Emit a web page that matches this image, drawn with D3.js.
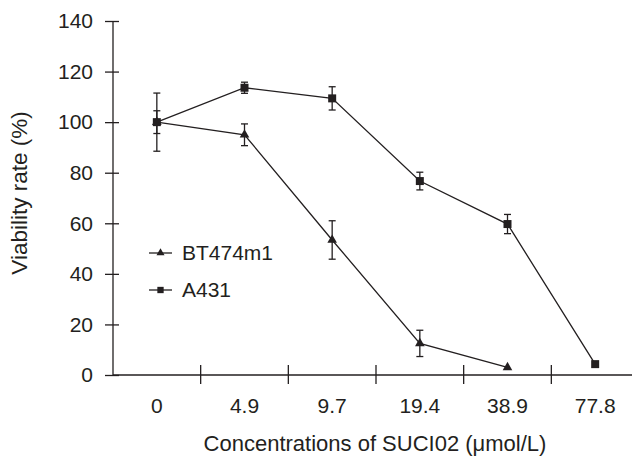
<!DOCTYPE html>
<html lang="en">
<head>
<meta charset="UTF-8">
<title>Viability rate</title>
<script src="https://cdnjs.cloudflare.com/ajax/libs/d3/7.8.5/d3.min.js"></script>
<style>
  body { margin: 0; background: #fff; }
  text { font-family: "Liberation Sans", Arial, sans-serif; fill: #231f20; }
</style>
</head>
<body>
<div id="chart"></div>
<script>
  // data
  var categories = ["0", "4.9", "9.7", "19.4", "38.9", "77.8"];
  var yTicks = [0, 20, 40, 60, 80, 100, 120, 140];

  var btValues = [100, 95.0, 53.4, 12.5, 3.0];
  var btErrors = [4.5, 4.3, 7.6, 5.2, 0];

  var a431Values = [100, 113.6, 109.4, 76.7, 59.7, 4.3];
  var a431Errors = [11.5, 2.2, 4.6, 3.5, 3.8, 0];

  var width = 632, height = 456;
  var ink = "#231f20";

  var svg = d3.select("#chart").append("svg")
    .attr("width", width)
    .attr("height", height);

  var x = d3.scaleBand()
    .domain(categories)
    .range([113, 639])
    .paddingInner(0)
    .paddingOuter(0);

  var y = d3.scaleLinear()
    .domain([0, 140])
    .range([375, 21]);

  function cx(i) { return x(categories[i]) + x.bandwidth() / 2; }

  // y axis
  var yAxis = svg.append("g")
    .attr("transform", "translate(113,0)")
    .call(d3.axisLeft(y).tickValues(yTicks).tickSize(8).tickPadding(12));
  yAxis.select(".domain").remove();
  yAxis.append("line")
    .attr("x1", 0).attr("x2", 0)
    .attr("y1", y(140)).attr("y2", y(0))
    .attr("stroke", ink).attr("stroke-width", 1.3);
  yAxis.selectAll(".tick line").attr("x1", 6).attr("x2", -8)
    .attr("stroke", ink).attr("stroke-width", 1.3);
  yAxis.selectAll(".tick text").attr("font-size", 21).attr("fill", ink);

  // x axis: labels at band centres, ticks at band boundaries
  var xAxis = svg.append("g")
    .attr("transform", "translate(0," + y(0) + ")")
    .call(d3.axisBottom(x).tickSize(0).tickPadding(23));
  xAxis.select(".domain").remove();
  xAxis.append("line")
    .attr("x1", 113).attr("x2", 639)
    .attr("stroke", ink).attr("stroke-width", 1.3);
  xAxis.selectAll(".tick text").attr("font-size", 21).attr("fill", ink);
  xAxis.selectAll(".bound")
    .data(categories.slice(1))
    .enter().append("line")
    .attr("class", "bound")
    .attr("x1", function(d) { return x(d); })
    .attr("x2", function(d) { return x(d); })
    .attr("y1", -10).attr("y2", 9)
    .attr("stroke", ink).attr("stroke-width", 1.3);

  // axis titles
  svg.append("text")
    .attr("transform", "translate(27,193) rotate(-90)")
    .attr("text-anchor", "middle")
    .attr("font-size", 22.5)
    .text("Viability rate (%)");

  svg.append("text")
    .attr("x", 375).attr("y", 451)
    .attr("text-anchor", "middle")
    .attr("font-size", 22)
    .text("Concentrations of SUCI02 (\u03bcmol/L)");

  var line = d3.line()
    .x(function(d, i) { return cx(i); })
    .y(function(d) { return y(d); });

  function drawSeries(values, errors, symbolType, size) {
    var g = svg.append("g");
    g.append("path")
      .datum(values)
      .attr("d", line)
      .attr("fill", "none")
      .attr("stroke", ink)
      .attr("stroke-width", 1.3);

    var eb = g.selectAll(".err")
      .data(values.map(function(v, i) { return { v: v, e: errors[i], i: i }; })
        .filter(function(d) { return d.e > 0; }))
      .enter().append("g");
    eb.append("line")
      .attr("x1", function(d) { return cx(d.i); })
      .attr("x2", function(d) { return cx(d.i); })
      .attr("y1", function(d) { return y(d.v + d.e); })
      .attr("y2", function(d) { return y(d.v - d.e); })
      .attr("stroke", ink).attr("stroke-width", 1.3);
    [1, -1].forEach(function(s) {
      eb.append("line")
        .attr("x1", function(d) { return cx(d.i) - 3.5; })
        .attr("x2", function(d) { return cx(d.i) + 3.5; })
        .attr("y1", function(d) { return y(d.v + s * d.e); })
        .attr("y2", function(d) { return y(d.v + s * d.e); })
        .attr("stroke", ink).attr("stroke-width", 1.3);
    });

    g.selectAll(".mark")
      .data(values)
      .enter().append("path")
      .attr("transform", function(d, i) { return "translate(" + cx(i) + "," + y(d) + ")"; })
      .attr("d", d3.symbol().type(symbolType).size(size))
      .attr("fill", ink);
  }

  drawSeries(btValues, btErrors, d3.symbolTriangle, 40);
  drawSeries(a431Values, a431Errors, d3.symbolSquare, 64);

  // legend
  var legend = [
    { name: "BT474m1", type: d3.symbolTriangle, size: 28, y: 253 },
    { name: "A431", type: d3.symbolSquare, size: 40, y: 290 }
  ];
  var lg = svg.selectAll(".legend")
    .data(legend)
    .enter().append("g")
    .attr("transform", function(d) { return "translate(149," + d.y + ")"; });
  lg.append("line")
    .attr("x1", 0).attr("x2", 23)
    .attr("stroke", ink).attr("stroke-width", 1.3);
  lg.append("path")
    .attr("transform", "translate(11.5,0)")
    .attr("d", function(d) { return d3.symbol().type(d.type).size(d.size)(); })
    .attr("fill", ink);
  lg.append("text")
    .attr("x", 33).attr("dy", "0.35em")
    .attr("font-size", 21)
    .text(function(d) { return d.name; });
</script>
</body>
</html>
